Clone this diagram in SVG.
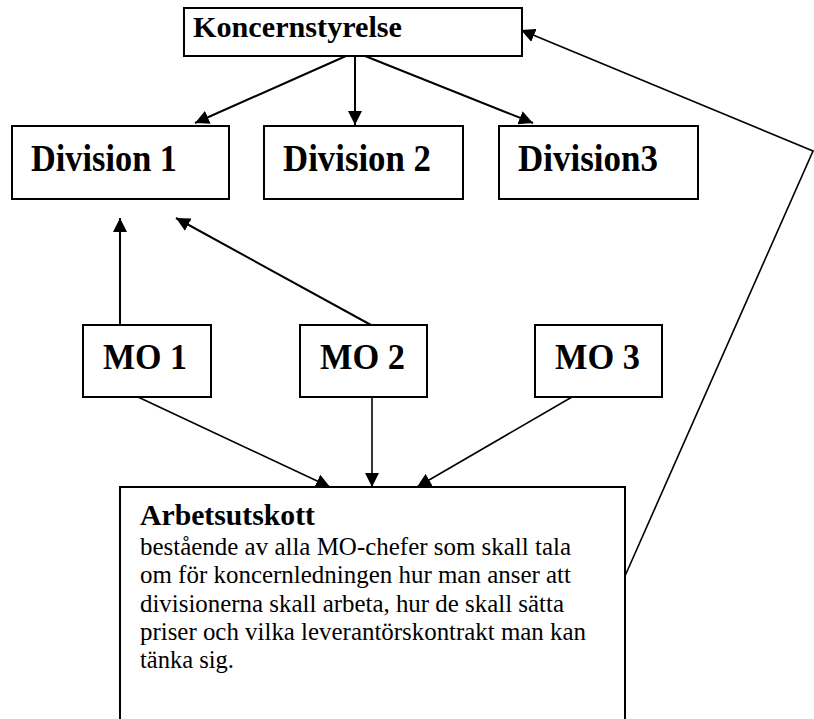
<svg xmlns="http://www.w3.org/2000/svg" width="814" height="719" viewBox="0 0 814 719">
  <style>
    .box { fill: #fff; stroke: #000; stroke-width: 2; }
    .lbl { font-weight: bold; fill: #000; }
    .body { font-size: 25px; fill: #000; }
    .edge { fill: none; stroke: #000; stroke-width: 2; }
    .thin { fill: none; stroke: #000; stroke-width: 1.6; }
  </style>
  <defs>
    <marker id="arrow" viewBox="0 0 14 14" refX="14" refY="7" markerWidth="14" markerHeight="14" markerUnits="userSpaceOnUse" orient="auto">
      <path d="M0,0 L14,7 L0,14 Z" fill="#000"/>
    </marker>
  </defs>

  <rect width="814" height="719" fill="#fff"/>

  <!-- connectors -->
  <g id="connectors">
    <line class="edge" x1="355" y1="52" x2="195" y2="123" marker-end="url(#arrow)"/>
    <line class="edge" x1="355" y1="52" x2="355" y2="125" marker-end="url(#arrow)"/>
    <line class="edge" x1="355" y1="52" x2="533" y2="123" marker-end="url(#arrow)"/>
    <line class="edge" x1="120" y1="325" x2="120" y2="218" marker-end="url(#arrow)"/>
    <line class="edge" x1="371" y1="325" x2="176" y2="218" marker-end="url(#arrow)"/>
    <line class="thin" x1="138" y1="397" x2="330" y2="487" marker-end="url(#arrow)"/>
    <line class="thin" x1="372" y1="397" x2="372" y2="487" marker-end="url(#arrow)"/>
    <line class="thin" x1="572" y1="397" x2="417" y2="487" marker-end="url(#arrow)"/>
    <polyline class="thin" points="625,576 813,151 521,30" marker-end="url(#arrow)"/>
  </g>

  <g font-family="Liberation Serif, Times New Roman, serif" style="font-family: 'Liberation Serif', 'Times New Roman', serif">
    <g id="koncernstyrelse">
      <rect class="box" x="184" y="8" width="338" height="48"/>
      <text class="lbl" x="193" y="37" font-size="30" textLength="209" lengthAdjust="spacingAndGlyphs">Koncernstyrelse</text>
    </g>

    <g id="division1">
      <rect class="box" x="12" y="126" width="217" height="73"/>
      <text class="lbl" x="31" y="171" font-size="37" textLength="146" lengthAdjust="spacingAndGlyphs">Division 1</text>
    </g>
    <g id="division2">
      <rect class="box" x="264" y="126" width="199" height="73"/>
      <text class="lbl" x="283" y="171" font-size="37" textLength="148" lengthAdjust="spacingAndGlyphs">Division 2</text>
    </g>
    <g id="division3">
      <rect class="box" x="499" y="126" width="199" height="73"/>
      <text class="lbl" x="518" y="171" font-size="37" textLength="140" lengthAdjust="spacingAndGlyphs">Division3</text>
    </g>

    <g id="mo1">
      <rect class="box" x="83" y="325" width="128" height="72"/>
      <text class="lbl" x="103" y="369" font-size="36" textLength="84" lengthAdjust="spacingAndGlyphs">MO 1</text>
    </g>
    <g id="mo2">
      <rect class="box" x="300" y="325" width="127" height="72"/>
      <text class="lbl" x="320" y="369" font-size="36" textLength="85" lengthAdjust="spacingAndGlyphs">MO 2</text>
    </g>
    <g id="mo3">
      <rect class="box" x="535" y="325" width="127" height="72"/>
      <text class="lbl" x="555" y="369" font-size="36" textLength="85" lengthAdjust="spacingAndGlyphs">MO 3</text>
    </g>

    <g id="arbetsutskott">
      <rect class="box" x="120" y="487" width="505" height="250"/>
      <text class="lbl" x="140" y="525" font-size="29" textLength="175" lengthAdjust="spacingAndGlyphs">Arbetsutskott</text>
      <text class="body" x="140" y="555" textLength="431" lengthAdjust="spacingAndGlyphs">bestående av alla MO-chefer som skall tala</text>
      <text class="body" x="140" y="583" textLength="431" lengthAdjust="spacingAndGlyphs">om för koncernledningen hur man anser att</text>
      <text class="body" x="140" y="612" textLength="424" lengthAdjust="spacingAndGlyphs">divisionerna skall arbeta, hur de skall sätta</text>
      <text class="body" x="140" y="640" textLength="446" lengthAdjust="spacingAndGlyphs">priser och vilka leverantörskontrakt man kan</text>
      <text class="body" x="140" y="668" textLength="94" lengthAdjust="spacingAndGlyphs">tänka sig.</text>
    </g>
  </g>
</svg>
